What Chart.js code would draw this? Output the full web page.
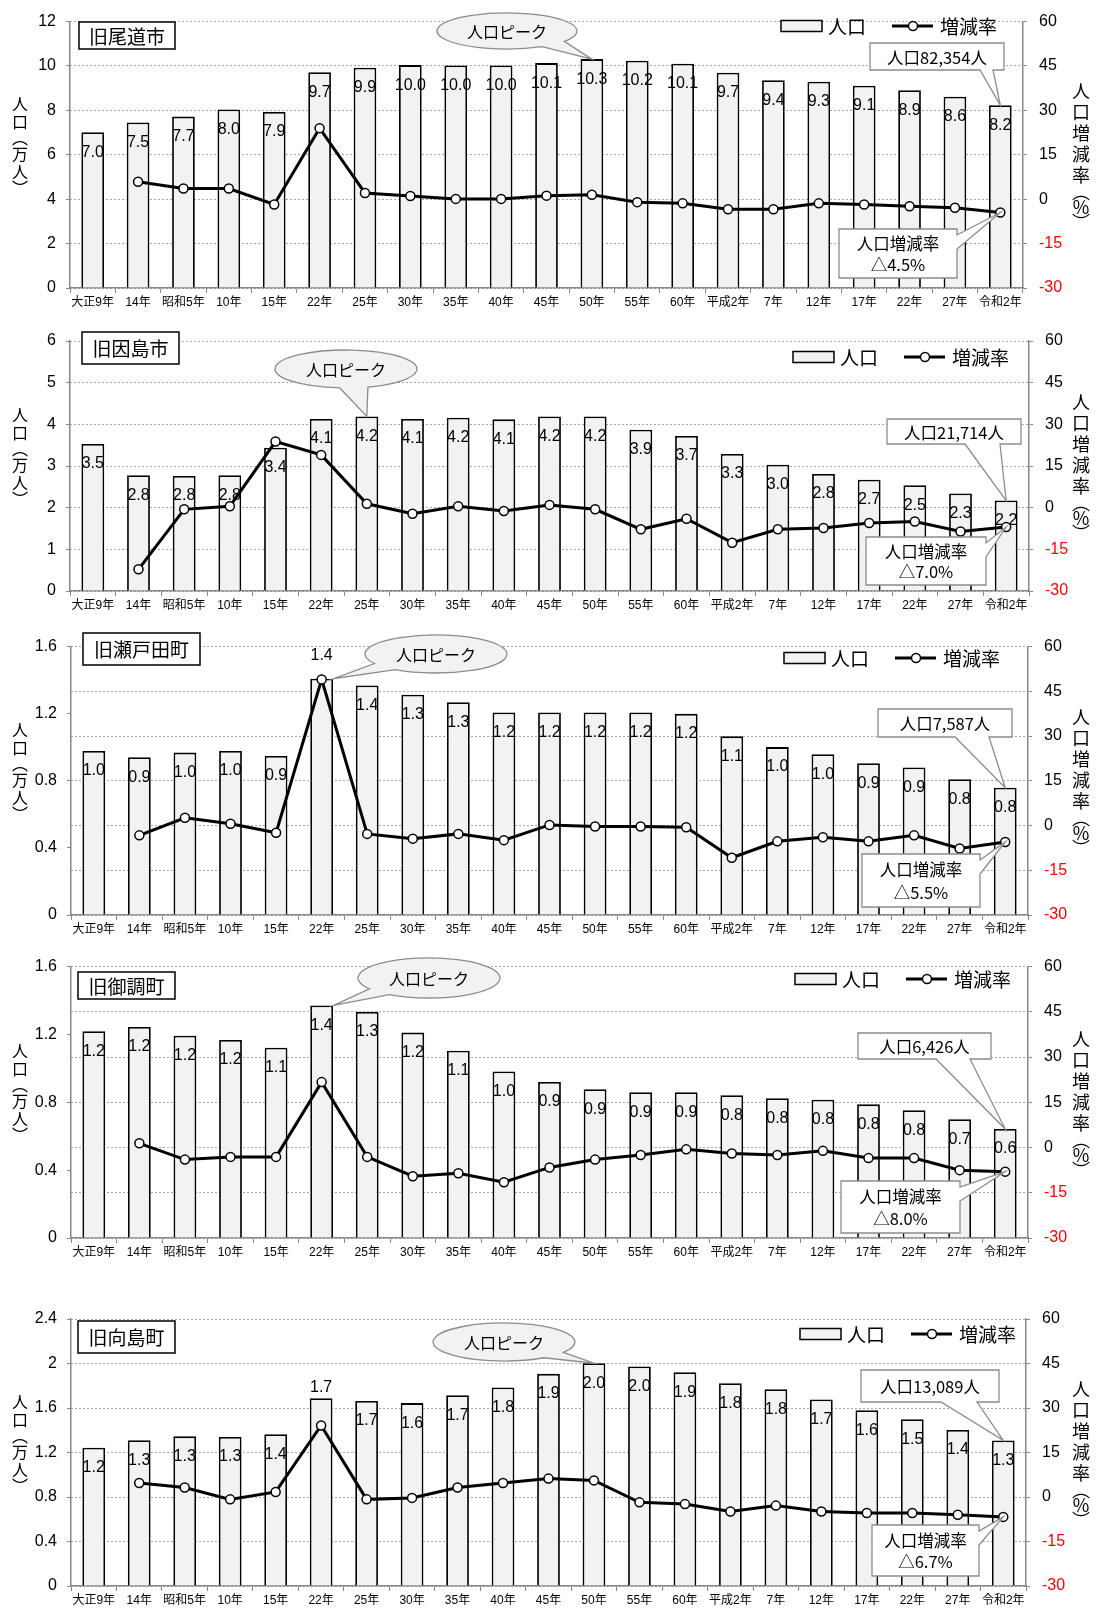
<!DOCTYPE html>
<html>
<head>
<meta charset="utf-8">
<script src="https://cdn.jsdelivr.net/npm/chart.js@4/dist/chart.umd.min.js"></script>
<style>
  html, body { margin: 0; padding: 0; background: #fff; }
  #page { position: relative; width: 1097px; height: 1610px; overflow: hidden; }
  #page canvas { position: absolute; left: 0; }
</style>
</head>
<body>
<div id="page"></div>
<script>
// 国勢調査年（横軸）
const categories = ['大正9年','14年','昭和5年','10年','15年','22年','25年','30年','35年','40年','45年','50年','55年','60年','平成2年','7年','12年','17年','22年','27年','令和2年'];

// 人口（万人）
const popOnomichi   = [7.02, 7.46, 7.72, 8.04, 7.93, 9.72, 9.92, 10.04, 10.02, 10.02, 10.13, 10.31, 10.24, 10.10, 9.70, 9.36, 9.29, 9.11, 8.91, 8.62, 8.2354];
const popInnoshima  = [3.53, 2.78, 2.76, 2.78, 3.44, 4.13, 4.19, 4.13, 4.16, 4.12, 4.19, 4.19, 3.87, 3.72, 3.29, 3.03, 2.81, 2.67, 2.54, 2.34, 2.1714];
const popSetoda     = [0.978, 0.940, 0.968, 0.978, 0.948, 1.409, 1.368, 1.313, 1.268, 1.207, 1.207, 1.207, 1.207, 1.199, 1.065, 1.001, 0.958, 0.905, 0.879, 0.809, 0.7587];
const popMitsugi    = [1.219, 1.244, 1.192, 1.167, 1.122, 1.371, 1.332, 1.211, 1.104, 0.982, 0.920, 0.877, 0.859, 0.859, 0.842, 0.824, 0.815, 0.788, 0.753, 0.700, 0.6426];
const popMukaishima = [1.243, 1.310, 1.345, 1.340, 1.364, 1.688, 1.664, 1.644, 1.715, 1.784, 1.907, 2.003, 1.973, 1.922, 1.823, 1.769, 1.676, 1.580, 1.500, 1.403, 1.3089];

// 人口増減率（％）
const rateOnomichi   = [null, 5.9, 3.6, 3.6, -1.8, 24.0, 2.1, 1.1, 0.1, 0.1, 1.2, 1.5, -1.0, -1.4, -3.4, -3.4, -1.4, -1.8, -2.4, -2.9, -4.5];
const rateInnoshima  = [null, -22.2, -0.6, 0.5, 23.8, 19.0, 1.4, -2.2, 0.5, -1.2, 1.0, -0.6, -7.8, -4.0, -12.6, -7.8, -7.3, -5.5, -5.0, -8.6, -7.0];
const rateSetoda     = [null, -3.3, 2.6, 0.6, -2.4, 49.0, -2.8, -4.4, -2.8, -4.9, 0.2, -0.3, -0.3, -0.6, -10.8, -5.3, -3.9, -5.3, -3.3, -7.7, -5.5];
const rateMitsugi    = [null, 1.4, -4.0, -3.1, -3.1, 21.7, -3.1, -9.5, -8.5, -11.5, -6.6, -4.0, -2.5, -0.6, -2.0, -2.5, -1.1, -3.5, -3.5, -7.5, -8.0];
const rateMukaishima = [null, 4.7, 3.2, -0.8, 1.7, 24.1, -0.8, -0.3, 3.2, 4.7, 6.2, 5.6, -1.8, -2.4, -4.9, -2.9, -4.9, -5.4, -5.4, -6.0, -6.7];

// 目盛
const popTicksOnomichi   = [0, 2, 4, 6, 8, 10, 12];
const popTicksInnoshima  = [0, 1, 2, 3, 4, 5, 6];
const popTicksSetoda     = [0, 0.4, 0.8, 1.2, 1.6];
const popTicksMitsugi    = [0, 0.4, 0.8, 1.2, 1.6];
const popTicksMukaishima = [0, 0.4, 0.8, 1.2, 1.6, 2, 2.4];
const rateTicks          = [-30, -15, 0, 15, 30, 45, 60];

const FONT_JP  = '"Noto Sans CJK JP", "Noto Sans", sans-serif';
const FONT_NUM = '"Liberation Sans", Arial, "Noto Sans CJK JP", sans-serif';

// 各グラフの配置（ページ座標）と注記の位置
const panels = [
  { name: '旧尾道市', pop: popOnomichi, rate: rateOnomichi, popTicks: popTicksOnomichi,
    top: 0, bottom: 318, plotTop: 15, plotBottom: 288, plotLeft: 70, plotRight: 1023,
    nameBox: [79, 22, 96, 27], legend: [781, 26],
    peak: { index: 11, dx: 0, cx: 507, cy: 31, rx: 70, ry: 18, gap: [35, 60] },
    popBox: [870, 43, 134, 27, 24, 11], rateBox: [839, 229, 118, 49] },
  { name: '旧因島市', pop: popInnoshima, rate: rateInnoshima, popTicks: popTicksInnoshima,
    top: 318, bottom: 625, plotTop: 341, plotBottom: 591, plotLeft: 70, plotRight: 1029,
    nameBox: [82, 332, 97, 32], legend: [793, 357],
    peak: { index: 6, dx: 0, cx: 346, cy: 369, rx: 71, ry: 19, gap: [72, 95] },
    popBox: [887, 419, 134, 25, 56, 21], rateBox: [866, 537, 120, 48] },
  { name: '旧瀬戸田町', pop: popSetoda, rate: rateSetoda, popTicks: popTicksSetoda,
    top: 625, bottom: 945, plotTop: 643, plotBottom: 915, plotLeft: 71, plotRight: 1028,
    nameBox: [83, 633, 117, 32], legend: [784, 658],
    raisedLabel: { index: 5, dy: -23 },
    peak: { index: 5, dx: 12, cx: 436, cy: 654, rx: 71, ry: 19, gap: [125, 150] },
    popBox: [878, 709, 134, 28, 57, 23], rateBox: [862, 854, 118, 53] },
  { name: '旧御調町', pop: popMitsugi, rate: rateMitsugi, popTicks: popTicksMitsugi,
    top: 945, bottom: 1275, plotTop: 964, plotBottom: 1238, plotLeft: 71, plotRight: 1028,
    nameBox: [78, 972, 97, 27], legend: [795, 979],
    peak: { index: 5, dx: 12, cx: 429, cy: 978, rx: 71, ry: 20, gap: [124, 147] },
    popBox: [858, 1033, 133, 26, 55, 21], rateBox: [841, 1181, 119, 52] },
  { name: '旧向島町', pop: popMukaishima, rate: rateMukaishima, popTicks: popTicksMukaishima,
    top: 1275, bottom: 1610, plotTop: 1319, plotBottom: 1586, plotLeft: 71, plotRight: 1026,
    nameBox: [78, 1321, 97, 32], legend: [800, 1334],
    raisedLabel: { index: 5, dy: -11 },
    peak: { index: 11, dx: 0, cx: 504, cy: 1342, rx: 71, ry: 19, gap: [33, 56] },
    popBox: [861, 1370, 138, 32, 58, 22], rateBox: [872, 1525, 107, 51] }
];

// 縦書きの軸タイトル：[文字, 送り幅]
function drawVertical(ctx, glyphs, x, yCenter, fontSize) {
  const total = glyphs.reduce((s, g) => s + g[1], 0);
  let y = yCenter - total / 2;
  ctx.font = fontSize + 'px ' + FONT_JP;
  ctx.textAlign = 'center';
  ctx.textBaseline = 'middle';
  glyphs.forEach(([ch, h]) => {
    ctx.fillText(ch, x, y + h / 2);
    y += h;
  });
}

function makeDecor(p) {
  const oy = p.top;
  return {
    id: 'decor',
    // 棒の数値ラベル（折れ線より下に描く）
    afterDatasetDraw(chart, args) {
      if (args.index !== 0) return;
      const ctx = chart.ctx;
      const meta = chart.getDatasetMeta(0);
      ctx.save();
      ctx.font = '16px ' + FONT_NUM;
      ctx.fillStyle = '#000';
      ctx.textAlign = 'center';
      ctx.textBaseline = 'middle';
      meta.data.forEach((bar, i) => {
        const dy = (p.raisedLabel && p.raisedLabel.index === i) ? p.raisedLabel.dy : 20;
        ctx.fillText(p.pop[i].toFixed(1), bar.x, bar.y + dy);
      });
      ctx.restore();
    },
    afterDraw(chart) {
      const ctx = chart.ctx;
      const area = chart.chartArea;
      const midY = (area.top + area.bottom) / 2;
      ctx.save();
      ctx.fillStyle = '#000';

      // 軸タイトル（縦書き）
      drawVertical(ctx, [['人',18],['口',18],['︵',14],['万',18],['人',18],['︶',14]], 20, midY - 10, 16);
      drawVertical(ctx, [['人',21],['口',21],['増',21],['減',21],['率',21],['︵',13],['％',17],['︶',13]], 1081, midY, 18);

      // 地区名
      const [nx, ny, nw, nh] = p.nameBox;
      ctx.fillStyle = '#fff';
      ctx.fillRect(nx, ny - oy, nw, nh);
      ctx.strokeStyle = '#000';
      ctx.lineWidth = 1.5;
      ctx.strokeRect(nx, ny - oy, nw, nh);
      ctx.fillStyle = '#000';
      ctx.font = '19px ' + FONT_JP;
      ctx.textAlign = 'center';
      ctx.textBaseline = 'middle';
      ctx.fillText(p.name, nx + nw / 2, ny - oy + nh / 2 + 1);

      // 凡例
      const [lx, lyPage] = p.legend;
      const ly = lyPage - oy;
      ctx.fillStyle = '#f2f2f2';
      ctx.fillRect(lx, ly - 5.5, 41, 11);
      ctx.strokeStyle = '#000';
      ctx.lineWidth = 1.5;
      ctx.strokeRect(lx, ly - 5.5, 41, 11);
      ctx.fillStyle = '#000';
      ctx.font = '19px ' + FONT_JP;
      ctx.textAlign = 'left';
      ctx.fillText(chart.data.datasets[0].label, lx + 47, ly + 1);
      ctx.beginPath();
      ctx.moveTo(lx + 111, ly);
      ctx.lineTo(lx + 152, ly);
      ctx.lineWidth = 3;
      ctx.stroke();
      ctx.beginPath();
      ctx.arc(lx + 132, ly, 4.5, 0, Math.PI * 2);
      ctx.fillStyle = '#fff';
      ctx.fill();
      ctx.lineWidth = 1.5;
      ctx.stroke();
      ctx.fillStyle = '#000';
      ctx.fillText(chart.data.datasets[1].label, lx + 159, ly + 1);

      const barMeta = chart.getDatasetMeta(0);
      const lineMeta = chart.getDatasetMeta(1);

      // 人口ピークの吹き出し
      const pk = p.peak;
      const pkBar = barMeta.data[pk.index];
      const tipX = pkBar.x + pk.dx, tipY = pkBar.y;
      const a = pk.gap[0] * Math.PI / 180, b = pk.gap[1] * Math.PI / 180;
      ctx.beginPath();
      ctx.ellipse(pk.cx, pk.cy - oy, pk.rx, pk.ry, 0, b, a + Math.PI * 2);
      ctx.lineTo(tipX, tipY);
      ctx.closePath();
      ctx.fillStyle = '#f2f2f2';
      ctx.fill();
      ctx.strokeStyle = '#8c8c8c';
      ctx.lineWidth = 1.3;
      ctx.stroke();
      ctx.fillStyle = '#000';
      ctx.font = '16px ' + FONT_JP;
      ctx.textAlign = 'center';
      ctx.fillText('人口ピーク', pk.cx, pk.cy - oy + 1);

      // 最新の人口
      const last = p.pop.length - 1;
      const lb = barMeta.data[last];
      const [bx, byPage, bw, bh, b1, b2] = p.popBox;
      const by = byPage - oy;
      ctx.beginPath();
      ctx.moveTo(bx, by);
      ctx.lineTo(bx + bw, by);
      ctx.lineTo(bx + bw, by + bh);
      ctx.lineTo(bx + bw - b2, by + bh);
      ctx.lineTo(lb.x, lb.y);
      ctx.lineTo(bx + bw - b1, by + bh);
      ctx.lineTo(bx, by + bh);
      ctx.closePath();
      ctx.fillStyle = '#fff';
      ctx.fill();
      ctx.strokeStyle = '#8c8c8c';
      ctx.stroke();
      ctx.fillStyle = '#000';
      ctx.font = '16.5px ' + FONT_JP;
      const people = Math.round(p.pop[last] * 10000).toLocaleString('en-US');
      ctx.fillText('人口' + people + '人', bx + bw / 2, by + bh / 2 + 1);

      // 最新の増減率
      const lp = lineMeta.data[last];
      const [rx, ryPage, rw, rh] = p.rateBox;
      const ry = ryPage - oy;
      ctx.beginPath();
      ctx.moveTo(rx, ry);
      ctx.lineTo(rx + rw, ry);
      ctx.lineTo(rx + rw, ry + 6);
      ctx.lineTo(lp.x, lp.y);
      ctx.lineTo(rx + rw, ry + 20);
      ctx.lineTo(rx + rw, ry + rh);
      ctx.lineTo(rx, ry + rh);
      ctx.closePath();
      ctx.fillStyle = '#fff';
      ctx.fill();
      ctx.strokeStyle = '#8c8c8c';
      ctx.stroke();
      ctx.fillStyle = '#000';
      ctx.fillText('人口増減率', rx + rw / 2, ry + rh * 0.3);
      ctx.fillText('△' + Math.abs(p.rate[last]).toFixed(1) + '%', rx + rw / 2, ry + rh * 0.73);

      ctx.restore();
    }
  };
}

const page = document.getElementById('page');

panels.forEach(p => {
  const h = p.bottom - p.top;
  const canvas = document.createElement('canvas');
  canvas.width = 1097;
  canvas.height = h;
  canvas.style.width = '1097px';
  canvas.style.height = h + 'px';
  canvas.style.top = p.top + 'px';
  page.appendChild(canvas);

  new Chart(canvas.getContext('2d'), {
    data: {
      labels: categories,
      datasets: [
        { type: 'bar', label: '人口', data: p.pop, yAxisID: 'y',
          backgroundColor: '#f2f2f2', borderColor: '#000', borderWidth: 1.8,
          barPercentage: 0.5, categoryPercentage: 1, order: 1 },
        { type: 'line', label: '増減率', data: p.rate, yAxisID: 'y1',
          borderColor: '#000', borderWidth: 3, tension: 0,
          pointRadius: 4.5, pointBackgroundColor: '#fff', pointBorderColor: '#000',
          pointBorderWidth: 1.5, order: 0 }
      ]
    },
    options: {
      responsive: false,
      animation: false,
      devicePixelRatio: 1,
      layout: { padding: { top: p.plotTop - p.top, left: 0, right: 0, bottom: 0 } },
      plugins: { legend: { display: false }, tooltip: { enabled: false } },
      scales: {
        x: {
          offset: true,
          grid: { display: true, offset: true, drawOnChartArea: false, drawTicks: true, tickLength: 5, color: '#888' },
          border: { display: true, color: '#888', width: 1.5 },
          ticks: { color: '#000', font: { family: FONT_NUM, size: 12 }, maxRotation: 0, autoSkip: false, padding: 2 },
          afterFit: s => { s.height = p.bottom - p.plotBottom; }
        },
        y: {
          position: 'left',
          min: p.popTicks[0], max: p.popTicks[p.popTicks.length - 1],
          afterBuildTicks: s => { s.ticks = p.popTicks.map(v => ({ value: v })); },
          ticks: { color: '#000', font: { family: FONT_NUM, size: 16 }, padding: 10, callback: v => String(v) },
          grid: { drawOnChartArea: false, drawTicks: true, tickLength: 4, color: '#888' },
          border: { display: true, color: '#888', width: 1.5 },
          afterFit: s => { s.width = p.plotLeft; }
        },
        y1: {
          position: 'right',
          min: rateTicks[0], max: rateTicks[rateTicks.length - 1],
          afterBuildTicks: s => { s.ticks = rateTicks.map(v => ({ value: v })); },
          ticks: { color: c => (c.tick && c.tick.value < 0) ? '#ff0000' : '#000',
                   font: { family: FONT_NUM, size: 16 }, padding: 12, callback: v => String(v) },
          grid: { drawOnChartArea: true, drawTicks: true, tickLength: 4, color: '#a6a6a6', tickColor: '#888', lineWidth: 1 },
          border: { display: true, color: '#888', width: 1.5, dash: [2, 2] },
          afterFit: s => { s.width = 1097 - p.plotRight; }
        }
      }
    },
    plugins: [makeDecor(p)]
  });
});
</script>
</body>
</html>
